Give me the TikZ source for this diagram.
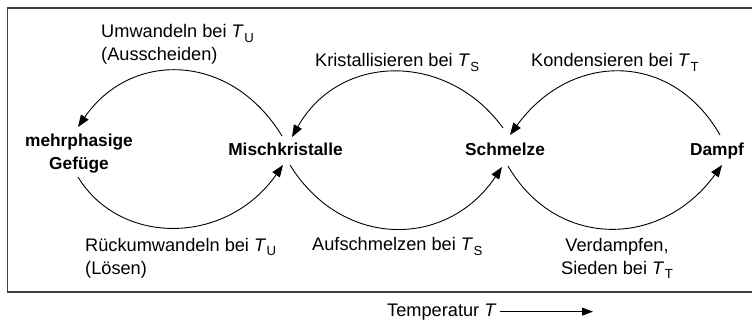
\documentclass[tikz,border=0pt]{standalone}
\usepackage{fontspec}
\setmainfont{Liberation Sans}
\usetikzlibrary{arrows.meta,calc}
\newcommand\Tsub[1]{\textit{T}\kern0.4pt\raisebox{-0.45ex}{\fontsize{13.2}{13.2}\selectfont #1}}
\begin{document}
\begin{tikzpicture}[x=1pt,y=-1pt,
  font=\fontsize{18.2}{23}\selectfont,
  state/.style={font=\fontsize{17.3}{23}\selectfont\bfseries, inner sep=0pt, align=center},
  lbl/.style={inner sep=0pt, font=\fontsize{18.2}{23}\selectfont},
  frame/.style={line width=1.3pt, draw=black!75},
  arc/.style={line width=0.9pt, -{Triangle[length=12pt,width=9pt]}}]
\useasboundingbox (0,0) rectangle (752,323);
\draw[frame] (752,8) -- (7.5,8) -- (7.5,292) -- (752,292);

% states (base anchor = baseline of the last line)
\node[state, anchor=base] (mp) at (79,170) {mehrphasige\\Gefüge};
\node[state, anchor=base] (mk) at (285.5,156) {Mischkristalle};
\node[state, anchor=base] (sm) at (505,156) {Schmelze};
\node[state, anchor=base] (dp) at (717,156) {Dampf};

% upper arcs
\draw[arc] ($(mk.base)+(-3.5,-20)$) .. controls (230,51) and (130,51) .. ($(mp.base)+(-1,-43)$);
\draw[arc] ($(sm.base)+(-2,-28)$) .. controls (448,52) and (340,52) .. ($(mk.base)+(6.5,-19)$);
\draw[arc] ($(dp.base)+(3,-21)$) .. controls (672,51) and (571,51) .. ($(sm.base)+(5,-21)$);
% lower arcs
\draw[arc] ($(mp.base)+(-1,7)$) .. controls (120,246) and (226,246) .. ($(mk.base)+(-2.5,9)$);
\draw[arc] ($(mk.base)+(4.5,9)$) .. controls (342,249) and (447,249) .. ($(sm.base)+(-3,11)$);
\draw[arc] ($(sm.base)+(3,10)$) .. controls (556,249) and (661,249) .. ($(dp.base)+(5,9)$);

% labels (base anchor = baseline of the last line)
\node[lbl, anchor=base west, align=left] (l1) at (101,61) {Umwandeln bei \Tsub{U}\\(Ausscheiden)};
\node[lbl, anchor=base west] (l2) at (315,67) {Kristallisieren bei \Tsub{S}};
\node[lbl, anchor=base west] (l3) at (531,67) {Kondensieren bei \Tsub{T}};
\node[lbl, anchor=base west, align=left] (l4) at (85,274) {Rückumwandeln bei \Tsub{U}\\(Lösen)};
\node[lbl, anchor=base west] (l5) at (312,251) {Aufschmelzen bei \Tsub{S}};
\node[lbl, anchor=base, align=center] (l6) at (617,274) {Verdampfen,\\Sieden bei \Tsub{T}};

% temperature axis
\node[lbl, anchor=base west] (temp) at (387,316) {Temperatur \textit{T}};
\coordinate (tend) at (593,311);
\draw[line width=0.8pt, -{Triangle[length=11pt,width=8pt]}] ($(temp.east)+(3,0)$) -- (tend |- {$(temp.east)$});
\end{tikzpicture}
\end{document}
